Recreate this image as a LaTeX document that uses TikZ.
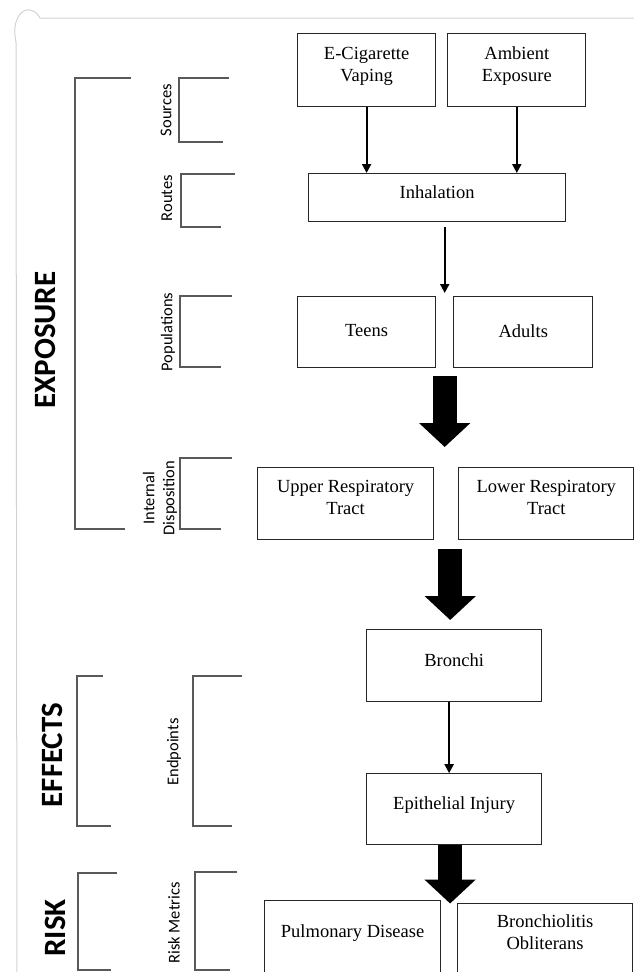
\documentclass[tikz,border=0pt]{standalone}
\usepackage{fontspec}
\setmainfont{Liberation Serif}
\newfontfamily\labelfont{Carlito}
\usetikzlibrary{positioning, calc, arrows.meta}

\begin{document}
\begin{tikzpicture}[x=1pt,y=-1pt,
  every node/.style={rectangle,align=center,inner sep=0pt},
  box/.style={draw=black!85,line width=1.2pt,text depth=12pt,font=\fontsize{18.5}{22}\selectfont},
  bracket/.style={draw=black!65,line width=1.3pt},
  stage/.style={rotate=90,font=\labelfont\bfseries\fontsize{31}{36}\selectfont},
  tier/.style={rotate=90,font=\labelfont\fontsize{16.5}{20}\selectfont},
  thinarrow/.style={line width=2pt,-{Triangle[length=9pt,width=9pt]}},
  fatarrow/.style={line width=24pt,-{Triangle[length=24pt,width=50pt]}}]
\useasboundingbox (0,0) rectangle (634,972);
% frame
\draw[gray!35,line width=1pt](17,972)--(16,42) .. controls (11,20) and (22,8) .. (30,10) .. controls (36,11) and (38,15) .. (40,18)--(634,18);
%
  \node(ecig)[box,minimum width=138pt,minimum height=73pt,anchor=north west] at (297,33){E-Cigarette\\Vaping};
  \node(ambient)[box,minimum width=138pt,minimum height=73pt,right=11pt of ecig]{Ambient\\Exposure};
  \node(inhal)[box,minimum width=257pt,minimum height=48pt,anchor=north west] at (308,173){Inhalation};
%
  \node(teens)[box,text depth=3pt,minimum width=138pt,minimum height=71pt,anchor=north west] at (297,296){Teens};
  \node(adults)[box,text depth=3pt,minimum width=139pt,minimum height=71pt,right=17pt of teens]{Adults};
%
  \node(upper)[box,minimum width=176pt,minimum height=72pt,anchor=north west] at (257,467){Upper Respiratory\\Tract};
  \node(lower)[box,minimum width=175pt,minimum height=72pt,right=24pt of upper]{Lower Respiratory\\Tract};
%
  \node(bronchi)[box,minimum width=175pt,minimum height=72pt,anchor=north west] at (366,629){Bronchi};
  \node(epith)[box,minimum width=175pt,minimum height=71pt,below=71pt of bronchi]{Epithelial Injury};
%
  \node(pulm)[box,text depth=30pt,minimum width=176pt,minimum height=90pt,anchor=north west] at (264,900){Pulmonary Disease};
  \node(bronchob)[box,text depth=33pt,minimum width=175pt,minimum height=90pt,anchor=north west] at (457,903){Bronchiolitis\\Obliterans};
%
\draw[thinarrow](ecig.south)--(ecig.south |- inhal.north);
\draw[thinarrow](ambient.south)--(ambient.south |- inhal.north);
\coordinate(gap0) at ($(teens.north east)!.5!(adults.north west)$);
\draw[thinarrow,shorten <=5pt,shorten >=3pt](gap0 |- inhal.south)--(gap0);
\coordinate(gap1) at ($(teens.south east)!.5!(adults.south west)$);
\draw[fatarrow,shorten <=8pt,shorten >=20pt](gap1)--(gap1 |- upper.north);
\coordinate(gap2) at ($(upper.south east)!.5!(lower.south west)+(4,0)$);
\draw[fatarrow,shorten <=9pt,shorten >=9pt](gap2)--(gap2 |- bronchi.north);
\draw[thinarrow]([xshift=-5pt]bronchi.south)--([xshift=-5pt]epith.north);
\coordinate(gap3) at ($(pulm.north east)!.5!(bronchob.north west)+(1,0)$);
\draw[fatarrow,shorten >=-2pt](gap3 |- epith.south)--(gap3);
%
\draw[bracket](131,78)--(75,78)--(75,529)--(125,529);
\draw[bracket](229,78)--(179,78)--(179,142)--(223,142);
\draw[bracket](235,174)--(181,174)--(181,227)--(221,227);
\draw[bracket](232,296)--(180,296)--(180,367)--(221,367);
\draw[bracket](232,458)--(180,458)--(180,529)--(221,529);
\draw[bracket](103,676)--(77,676)--(77,826)--(111,826);
\draw[bracket](242,676)--(193,676)--(193,826)--(232,826);
\draw[bracket](117,873)--(78,873)--(78,970)--(111,970);
\draw[bracket](237,872)--(195,872)--(195,970)--(230,970);
%
  \node(exposure)[stage] at (45,340){EXPOSURE};
  \node(effects)[stage] at (52,755){EFFECTS};
  \node(risk)[stage] at (55,928){RISK};
%
  \node(sources)[tier] at (166,110){Sources};
  \node(routes)[tier] at (167,198){Routes};
  \node(populations)[tier] at (168,332){Populations};
  \node(internal)[tier] at (160,498){Internal\\Disposition};
  \node(endpoints)[tier] at (174,752){Endpoints};
  \node(riskmetrics)[tier] at (174,923){Risk Metrics};
\end{tikzpicture}
\end{document}
